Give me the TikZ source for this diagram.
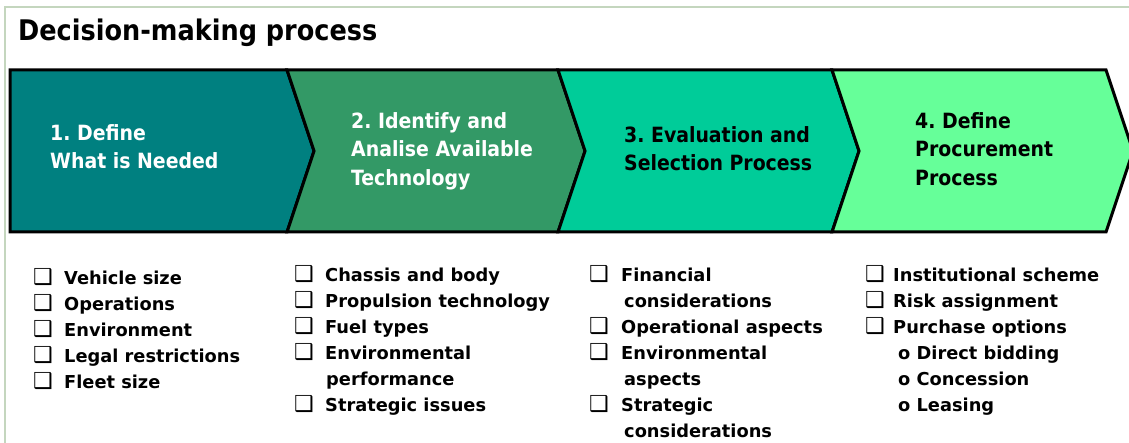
\documentclass[tikz,border=0pt]{standalone}
\usepackage{fontspec}
\setmainfont{DejaVu Sans Condensed}
\newfontfamily\listfont{DejaVu Sans}
\usepackage{xcolor}
\usepackage{tikz}
\usetikzlibrary{positioning}

\definecolor{stepone}{RGB}{0,128,128}
\definecolor{steptwo}{RGB}{51,153,102}
\definecolor{stepthree}{RGB}{0,204,153}
\definecolor{stepfour}{RGB}{102,255,153}
\definecolor{framegreen}{RGB}{196,214,190}

\newcommand{\chk}[1][31pt]{\makebox[#1][l]{\fontsize{22}{22}\selectfont ❑}}

\begin{document}
\frenchspacing
\begin{tikzpicture}[
    x=1pt, y=-1pt,
    chev/.style={draw=black, line width=3pt, line join=miter},
    steptext/.style={anchor=north west, align=left, inner sep=0pt,
      font=\fontsize{21}{28.5}\selectfont\bfseries},
    listtext/.style={anchor=north west, align=left, inner sep=0pt,
      font=\listfont\fontsize{17.8}{26}\selectfont\bfseries}
]

  \useasboundingbox (0,0) rectangle (1129,443);

  % frame and title
  \draw[framegreen, line width=1.5pt] (5,460) -- (5,7) -- (1150,7);
  \node[anchor=base west, inner sep=0pt, font=\fontsize{28.4}{34}\selectfont\bfseries] (title) at (18,41) {Decision-making process};

  % the four steps
  \foreach \col/\l/\r/\n in {stepone/10/287/0, steptwo/287/558/27, stepthree/558/832/27, stepfour/832/1106/27}
  \filldraw[chev, fill=\col] (\l,70) -- (\r,70) -- ++(27,81) -- ++(-27,81) -- (\l,232) -- ++(\n,-81) -- cycle;

  \node[steptext, text=white] (define) at (50,124) {1. Define\\What is Needed};
  \node[steptext, text=white] (identify) at (351,112) {2. Identify and\\Analise Available\\Technology};
  \node[steptext] (evaluate) at (624,126) {3. Evaluation and\\Selection Process};
  \node[steptext] (procure) at (915,112) {4. Define\\Procurement\\Process};

  % lists below the steps
  \node[listtext] (needs) at (33,268) {\chk Vehicle size\\ \chk Operations\\ \chk Environment\\ \chk Legal restrictions\\ \chk Fleet size};
  \node[listtext] (techs) at (294,265) {\chk Chassis and body\\ \chk Propulsion technology\\ \chk Fuel types\\ \chk Environmental\\ \hspace*{32pt}performance\\ \chk Strategic issues};
  \node[listtext] (criteria) at (589,265) {\chk[32pt]Financial\\ \hspace*{35pt}considerations\\ \chk[32pt]Operational aspects\\ \chk[32pt]Environmental\\ \hspace*{35pt}aspects\\ \chk[32pt]Strategic\\ \hspace*{35pt}considerations};
  \node[listtext] (options) at (865,265) {\chk[28pt]Institutional scheme\\ \chk[28pt]Risk assignment\\ \chk[28pt]Purchase options\\ \hspace*{33pt}o Direct bidding\\ \hspace*{33pt}o Concession\\ \hspace*{33pt}o Leasing};

\end{tikzpicture}
\end{document}
